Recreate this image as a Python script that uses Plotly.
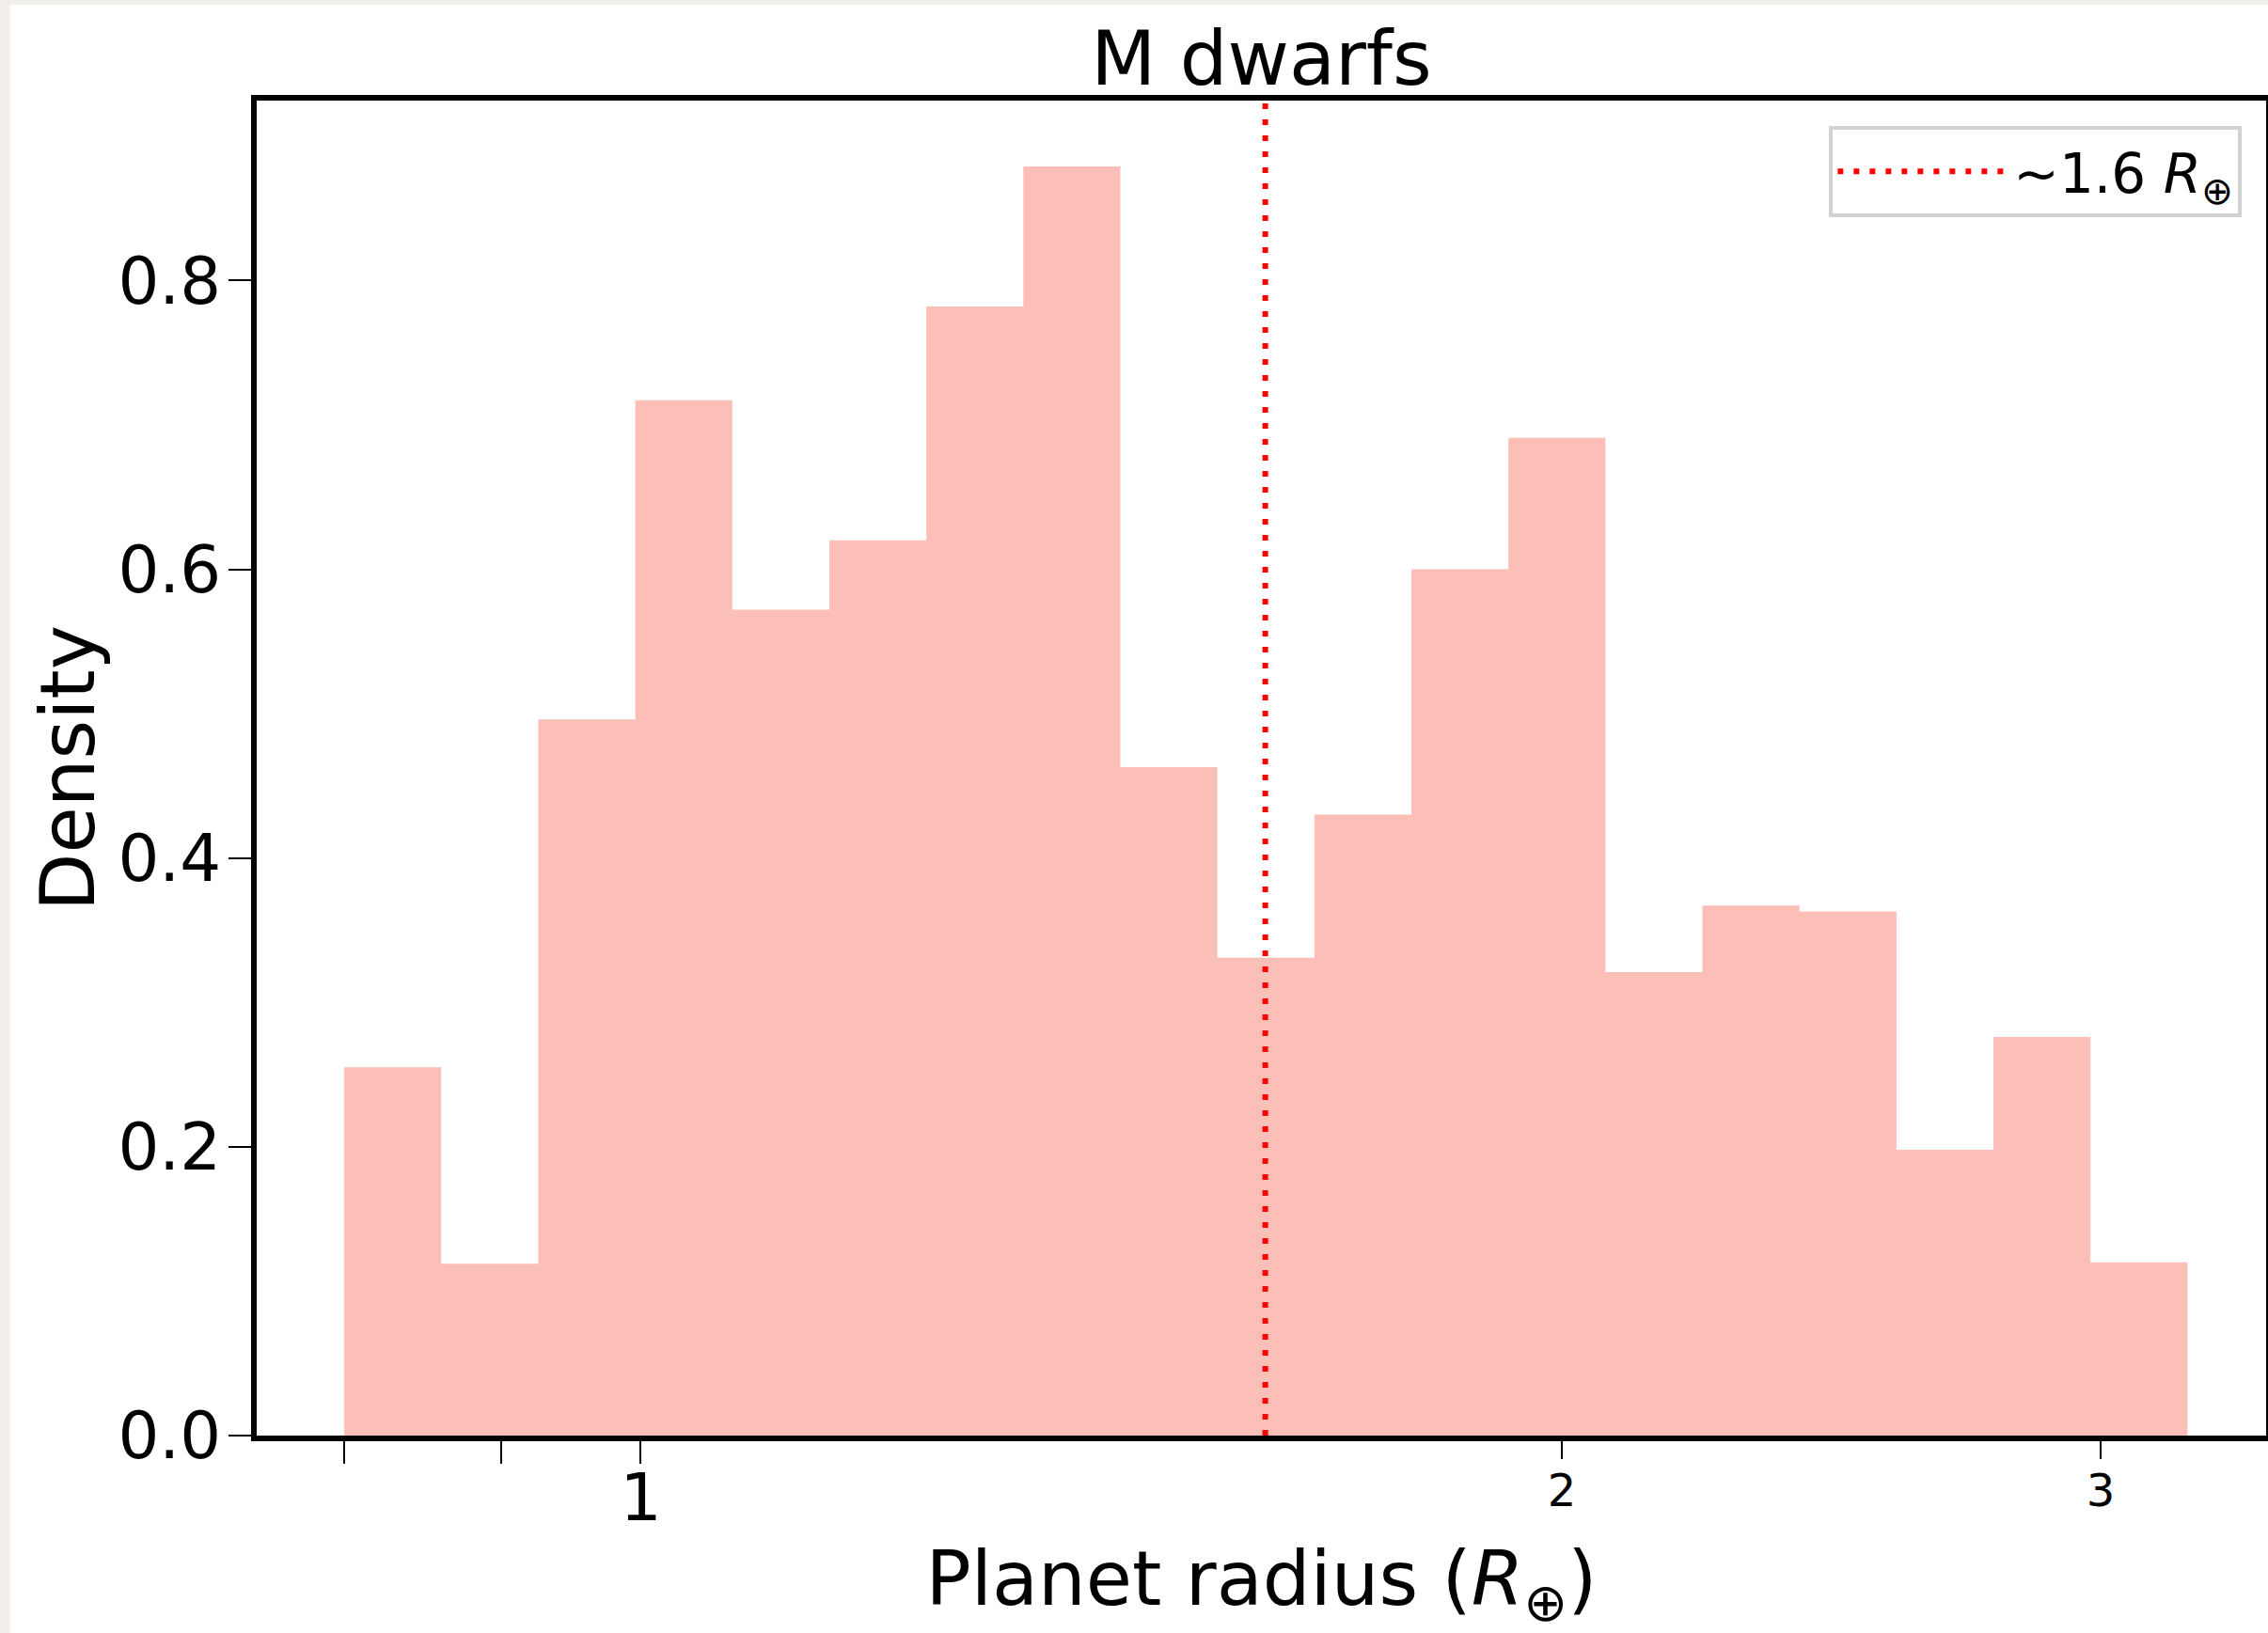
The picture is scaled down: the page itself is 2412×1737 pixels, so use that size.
import math
import plotly.graph_objects as go

# ---- data ----
bin_edges = [0.8, 0.86059, 0.92577, 0.99589, 1.07132, 1.15246, 1.23975, 1.33365,
             1.43466, 1.54332, 1.66021, 1.78596, 1.92123, 2.06674, 2.22327,
             2.39166, 2.57280, 2.76766, 2.97728, 3.20277]
density = [0.255, 0.119, 0.496, 0.717, 0.572, 0.620, 0.782, 0.879, 0.463, 0.331,
           0.430, 0.600, 0.691, 0.321, 0.367, 0.363, 0.198, 0.276, 0.120]
vline_x = 1.6
y_top = 0.9246
x_range = [0.749, 3.398]
y_ticks = [0.0, 0.2, 0.4, 0.6, 0.8]
major_x_ticks = [1]
major_x_text = ["1"]
unlabeled_x_ticks = [0.8, 0.9]
minor_x_ticks = [2, 3]
minor_x_text = ["2", "3"]

FONT = "DejaVu Sans"
W, H = 2412, 1737
ML, MR, MT, MB = 273, 2, 107, 210
pw, ph = W - ML - MR, H - MT - MB

fig = go.Figure()

# histogram as filled step
fig.add_trace(go.Scatter(
    x=bin_edges, y=density + [density[-1]],
    mode="lines", line=dict(shape="hv", width=0, color="rgba(0,0,0,0)"),
    fill="tozeroy", fillcolor="rgb(251,191,183)",
    showlegend=False, hoverinfo="skip", xaxis="x", yaxis="y"))

# dotted vertical line
fig.add_trace(go.Scatter(
    x=[vline_x, vline_x], y=[0, y_top],
    mode="lines", line=dict(color="red", width=6, dash="6px,11px"),
    name="~1.6 <i>R</i><sub>⊕</sub>", showlegend=True,
    xaxis="x2", yaxis="y"))

lr = [math.log10(v) for v in x_range]

fig.update_layout(
    width=W, height=H,
    margin=dict(l=ML, r=MR, t=MT, b=MB, autoexpand=False),
    paper_bgcolor="rgb(242,239,234)",
    plot_bgcolor="white",
    font=dict(family=FONT, color="black"),
    title=dict(text="M dwarfs", font=dict(size=80, family=FONT, color="black"),
               x=0.5, xref="paper", xanchor="center",
               y=1, yref="paper", yanchor="bottom", pad=dict(b=17)),
    xaxis=dict(type="log", range=lr, tickvals=major_x_ticks, ticktext=major_x_text,
               tickfont=dict(size=70), ticks="outside", ticklen=24, tickwidth=2,
               ticklabelstandoff=-24,
               minor=dict(tickvals=unlabeled_x_ticks, ticks="outside", ticklen=24,
                          tickwidth=2, tickcolor="black", showgrid=False),
               tickcolor="black", showline=True, linewidth=6, linecolor="black",
               mirror=True, showgrid=False, zeroline=False,
               title=dict(text="Planet radius (<i>R</i><sub>⊕</sub>)",
                          font=dict(size=80), standoff=44)),
    xaxis2=dict(type="log", range=lr, overlaying="x", side="bottom", anchor="y",
                tickvals=minor_x_ticks, ticktext=minor_x_text,
                tickfont=dict(size=48), ticks="outside", ticklen=24, tickwidth=2,
                ticklabelstandoff=-8,
                tickcolor="black", showline=False, showgrid=False, zeroline=False),
    yaxis=dict(range=[0, y_top], tickvals=y_ticks, tickformat=".1f",
               tickfont=dict(size=69), ticks="outside", ticklen=24, tickwidth=2,
               ticklabelstandoff=-6,
               tickcolor="black", showline=True, linewidth=6, linecolor="black",
               mirror=True, showgrid=False, zeroline=False,
               title=dict(text="Density", font=dict(size=80), standoff=0)),
    legend=dict(x=0.988, y=0.981, xanchor="right", yanchor="top",
                bgcolor="white", bordercolor="rgb(210,210,210)", borderwidth=4,
                font=dict(size=58, family=FONT), itemwidth=182),
    shapes=[dict(type="rect", xref="paper", yref="paper", layer="below",
                 x0=(11 - ML) / pw, x1=(W - ML) / pw + 0.01,
                 y0=-(MB + 5) / ph, y1=(ph + MT - 5) / ph,
                 fillcolor="white", line=dict(width=0))],
)

fig.write_html("out.html")
